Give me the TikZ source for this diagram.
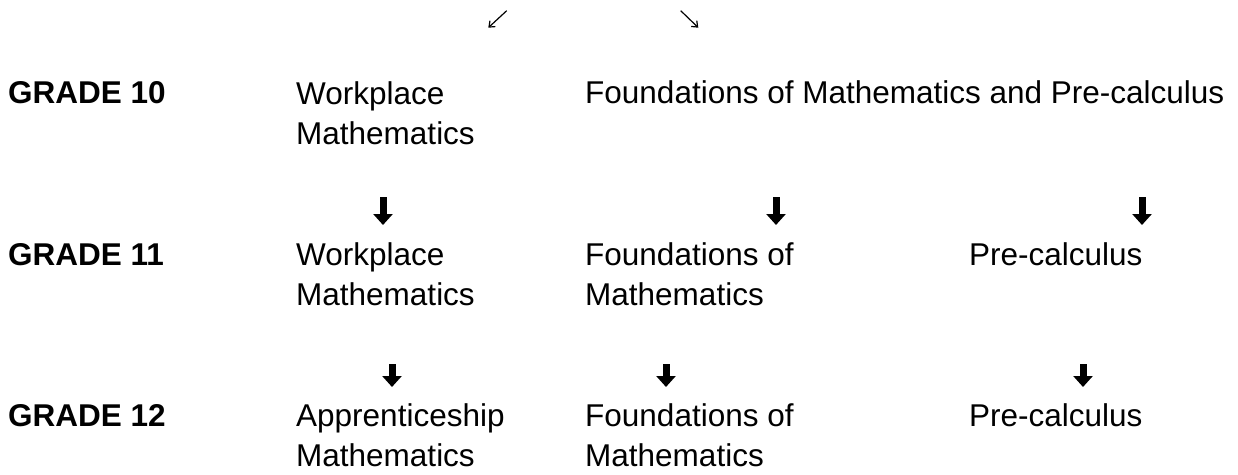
\documentclass[tikz,border=0pt]{standalone}
\usepackage{fontspec}
\setmainfont{Liberation Sans}
\usetikzlibrary{arrows.meta,positioning}

\begin{document}
\begin{tikzpicture}[x=1pt,y=-1pt,
  lbl/.style={anchor=base west,inner sep=0pt,align=left,font=\fontsize{31.5}{40}\selectfont},
  grade/.style={lbl,font=\fontsize{31.5}{40}\selectfont\bfseries},
  bigarr/.style={line width=7pt,-{Triangle[length=11pt,width=19pt]}},
  smallarr/.style={line width=1.2pt,-{Straight Barb[length=5pt,width=8pt]}}]
  \useasboundingbox (0,0) rectangle (1238,474);
  % grade labels
  \node[grade] (g10) at (8,103) {GRADE 10};
  \node[grade] (g11) at (8,265) {GRADE 11};
  \node[grade] (g12) at (8,426) {GRADE 12};
  % courses (two-line nodes sit on their last baseline)
  \node[lbl] (w10) at (296,144) {Workplace\\Mathematics};
  \node[lbl] (f10) at (585,103) {Foundations of Mathematics and Pre-calculus};
  \node[lbl] (w11) at (296,305) {Workplace\\Mathematics};
  \node[lbl] (f11) at (585,305) {Foundations of\\Mathematics};
  \node[lbl] (p11) at (969,265) {Pre-calculus};
  \node[lbl] (a12) at (296,466) {Apprenticeship\\Mathematics};
  \node[lbl] (f12) at (585,466) {Foundations of\\Mathematics};
  \node[lbl] (p12) at (969,426) {Pre-calculus};
  % arrow ends
  \coordinate (t1s) at (506.7,10.7);  \coordinate (t1e) at (488.3,27.7);
  \coordinate (t2s) at (680.7,10.7);  \coordinate (t2e) at (698.3,27.7);
  \coordinate (r1s) at (383,197);  \coordinate (r1e) at (383,225);
  \coordinate (r2s) at (776,197);  \coordinate (r2e) at (776,225);
  \coordinate (r3s) at (1142,197); \coordinate (r3e) at (1142,225);
  \coordinate (q1s) at (392,364);  \coordinate (q1e) at (392,387);
  \coordinate (q2s) at (666,364);  \coordinate (q2e) at (666,387);
  \coordinate (q3s) at (1083,364); \coordinate (q3e) at (1083,387);
  \draw[smallarr] (t1s) -- (t1e);
  \draw[smallarr] (t2s) -- (t2e);
  \draw[bigarr] (r1s) -- (r1e);
  \draw[bigarr] (r2s) -- (r2e);
  \draw[bigarr] (r3s) -- (r3e);
  \draw[bigarr] (q1s) -- (q1e);
  \draw[bigarr] (q2s) -- (q2e);
  \draw[bigarr] (q3s) -- (q3e);
\end{tikzpicture}
\end{document}
